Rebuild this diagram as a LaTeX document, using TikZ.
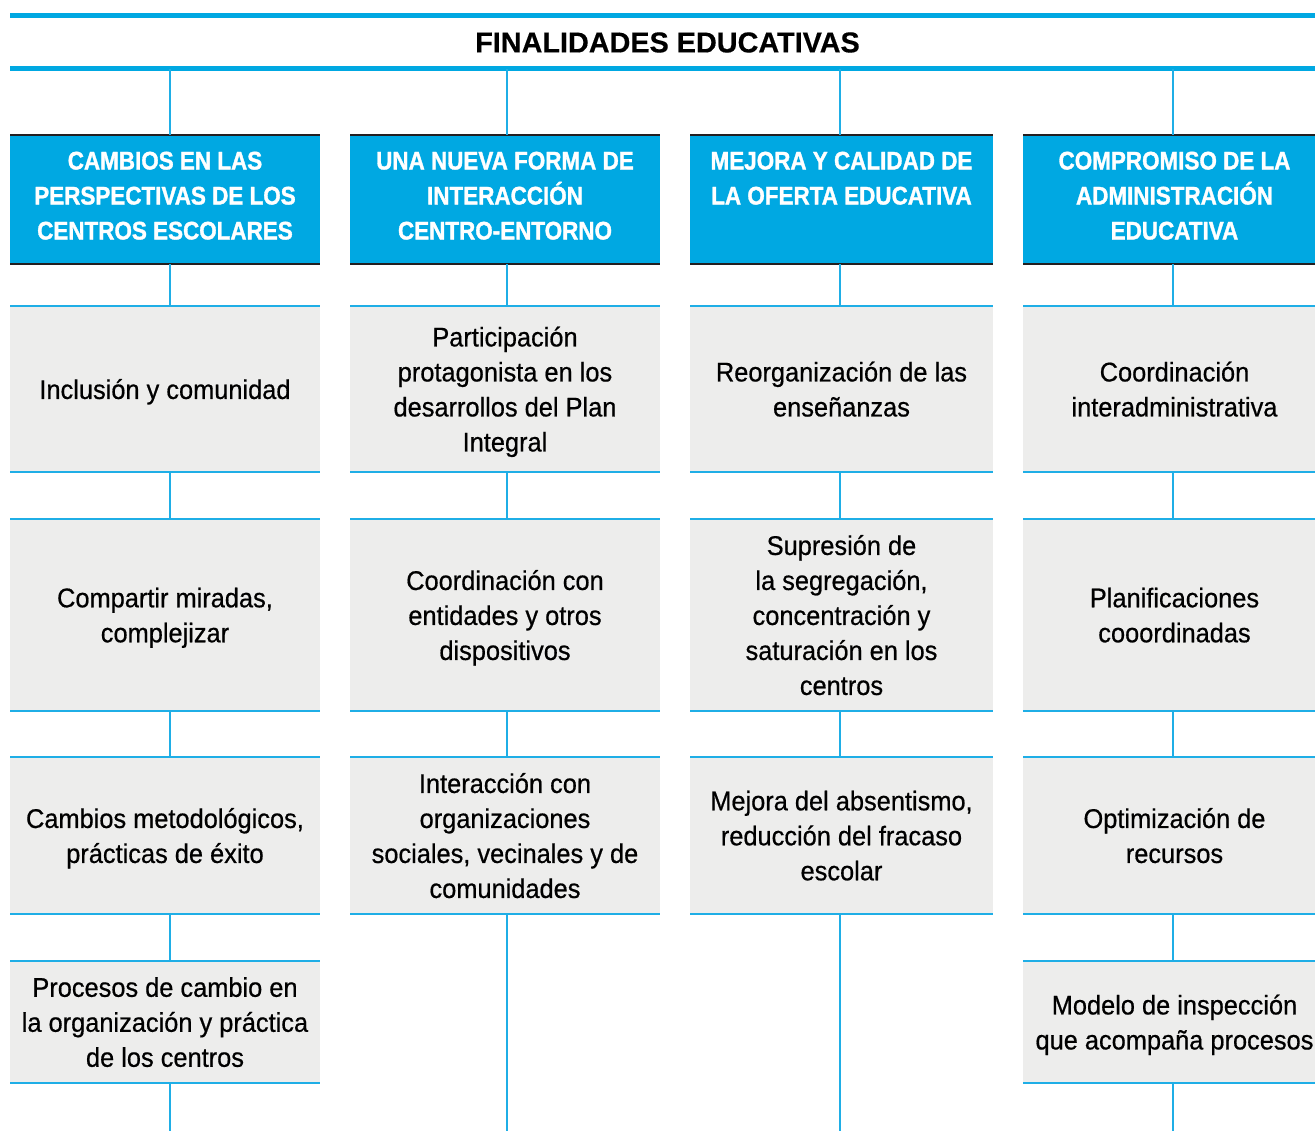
\documentclass[tikz,border=0pt]{standalone}
\usepackage{fontspec}
\setmainfont{Liberation Sans}[FakeStretch=0.94, FakeBold=0.6]
\newfontfamily\hdrfont{Liberation Sans}[FakeStretch=0.88, FakeBold=1.3]
\newfontfamily\titlefont{Liberation Sans}[FakeBold=0.4]
\definecolor{cblue}{HTML}{00A8E2}
\definecolor{lblue}{HTML}{1FAEE6}
\definecolor{cgrey}{HTML}{EDEDEC}
\definecolor{cblack}{HTML}{231F20}
\begin{document}
\begin{tikzpicture}[x=1pt,y=-1pt,
  titlebox/.style={minimum width=1315pt, minimum height=53pt, inner sep=0pt, outer sep=0pt,
    font=\titlefont\bfseries\fontsize{28.8}{34}\selectfont, text=black},
  hdrbox/.style={fill=cblue, minimum height=129pt, inner sep=0pt, outer sep=0pt},
  hdrtext/.style={anchor=north, inner sep=0pt, align=center, text=white,
    font=\hdrfont\bfseries\fontsize{25.5}{35}\selectfont},
  greybox/.style={fill=cgrey, inner sep=0pt, outer sep=0pt, align=center, text=black,
    text depth=0pt, font=\fontsize{27}{35}\selectfont},
  thickline/.style={draw=cblue, line width=5pt},
  edgeline/.style={draw=lblue, line width=2pt},
  blackline/.style={draw=cblack, line width=1.8pt},
  conn/.style={draw=lblue, line width=1.5pt}
]
\useasboundingbox (0,0) rectangle (1315,1131);
\fill[white] (0,0) rectangle (1315,1131);

% title
\node[titlebox] (title) at (667.5,42.5) {FINALIDADES EDUCATIVAS};
\draw[thickline] (title.north west) -- (title.north east);
\draw[thickline] (title.south west) -- (title.south east);

% connector x positions
\coordinate (x1) at (170,0);
\coordinate (x2) at (507,0);
\coordinate (x3) at (840,0);
\coordinate (x4) at (1173,0);
\coordinate (bot) at (0,1131);

% header boxes
\node[hdrbox, minimum width=310pt] (h1) at (165,199.5) {};
\node[hdrbox, minimum width=310pt] (h2) at (505,199.5) {};
\node[hdrbox, minimum width=303pt] (h3) at (841.5,199.5) {};
\node[hdrbox, minimum width=303pt] (h4) at (1174.5,199.5) {};
\node[hdrtext] (t1) at (165,151.5) {CAMBIOS EN LAS\\PERSPECTIVAS DE LOS\\CENTROS ESCOLARES};
\node[hdrtext] (t2) at (505,151.5) {UNA NUEVA FORMA DE\\INTERACCIÓN\\CENTRO-ENTORNO};
\node[hdrtext] (t3) at (841.5,151.5) {MEJORA Y CALIDAD DE\\LA OFERTA EDUCATIVA};
\node[hdrtext] (t4) at (1174.5,151.5) {COMPROMISO DE LA\\ADMINISTRACIÓN\\EDUCATIVA};
\foreach \n in {h1,h2,h3,h4}{
  \draw[blackline] (\n.north west) -- (\n.north east);
  \draw[blackline] (\n.south west) -- (\n.south east);
}

% row 1 (306-472)
\node[greybox, minimum width=310pt, minimum height=166pt] (a1) at (165,389) {Inclusión y comunidad};
\node[greybox, minimum width=310pt, minimum height=166pt] (b1) at (505,389) {Participación\\protagonista en los\\desarrollos del Plan\\Integral};
\node[greybox, minimum width=303pt, minimum height=166pt] (c1) at (841.5,389) {Reorganización de las\\enseñanzas};
\node[greybox, minimum width=303pt, minimum height=166pt] (d1) at (1174.5,389) {Coordinación\\interadministrativa};

% row 2 (519-711)
\node[greybox, minimum width=310pt, minimum height=192pt] (a2) at (165,615) {Compartir miradas,\\complejizar};
\node[greybox, minimum width=310pt, minimum height=192pt] (b2) at (505,615) {Coordinación con\\entidades y otros\\dispositivos};
\node[greybox, minimum width=303pt, minimum height=192pt] (c2) at (841.5,615) {Supresión de\\la segregación,\\concentración y\\saturación en los\\centros};
\node[greybox, minimum width=303pt, minimum height=192pt] (d2) at (1174.5,615) {Planificaciones\\cooordinadas};

% row 3 (757-914)
\node[greybox, minimum width=310pt, minimum height=157pt] (a3) at (165,835.5) {Cambios metodológicos,\\prácticas de éxito};
\node[greybox, minimum width=310pt, minimum height=157pt] (b3) at (505,835.5) {Interacción con\\organizaciones\\sociales, vecinales y de\\comunidades};
\node[greybox, minimum width=303pt, minimum height=157pt] (c3) at (841.5,835.5) {Mejora del absentismo,\\reducción del fracaso\\escolar};
\node[greybox, minimum width=303pt, minimum height=157pt] (d3) at (1174.5,835.5) {Optimización de\\recursos};

% row 4 (961-1083)
\node[greybox, minimum width=310pt, minimum height=122pt] (a4) at (165,1022) {Procesos de cambio en\\la organización y práctica\\de los centros};
\node[greybox, minimum width=303pt, minimum height=122pt] (d4) at (1174.5,1022) {Modelo de inspección\\que acompaña procesos};

\foreach \n in {a1,b1,c1,d1,a2,b2,c2,d2,a3,b3,c3,d3,a4,d4}{
  \draw[edgeline] (\n.north west) -- (\n.north east);
  \draw[edgeline] (\n.south west) -- (\n.south east);
}

% connectors column 1
\draw[conn] (title.south -| x1) -- (h1.north -| x1);
\draw[conn] (h1.south -| x1) -- (a1.north -| x1);
\draw[conn] (a1.south -| x1) -- (a2.north -| x1);
\draw[conn] (a2.south -| x1) -- (a3.north -| x1);
\draw[conn] (a3.south -| x1) -- (a4.north -| x1);
\draw[conn] (a4.south -| x1) -- (bot -| x1);
% column 2
\draw[conn] (title.south -| x2) -- (h2.north -| x2);
\draw[conn] (h2.south -| x2) -- (b1.north -| x2);
\draw[conn] (b1.south -| x2) -- (b2.north -| x2);
\draw[conn] (b2.south -| x2) -- (b3.north -| x2);
\draw[conn] (b3.south -| x2) -- (bot -| x2);
% column 3
\draw[conn] (title.south -| x3) -- (h3.north -| x3);
\draw[conn] (h3.south -| x3) -- (c1.north -| x3);
\draw[conn] (c1.south -| x3) -- (c2.north -| x3);
\draw[conn] (c2.south -| x3) -- (c3.north -| x3);
\draw[conn] (c3.south -| x3) -- (bot -| x3);
% column 4
\draw[conn] (title.south -| x4) -- (h4.north -| x4);
\draw[conn] (h4.south -| x4) -- (d1.north -| x4);
\draw[conn] (d1.south -| x4) -- (d2.north -| x4);
\draw[conn] (d2.south -| x4) -- (d3.north -| x4);
\draw[conn] (d3.south -| x4) -- (d4.north -| x4);
\draw[conn] (d4.south -| x4) -- (bot -| x4);
\end{tikzpicture}
\end{document}
